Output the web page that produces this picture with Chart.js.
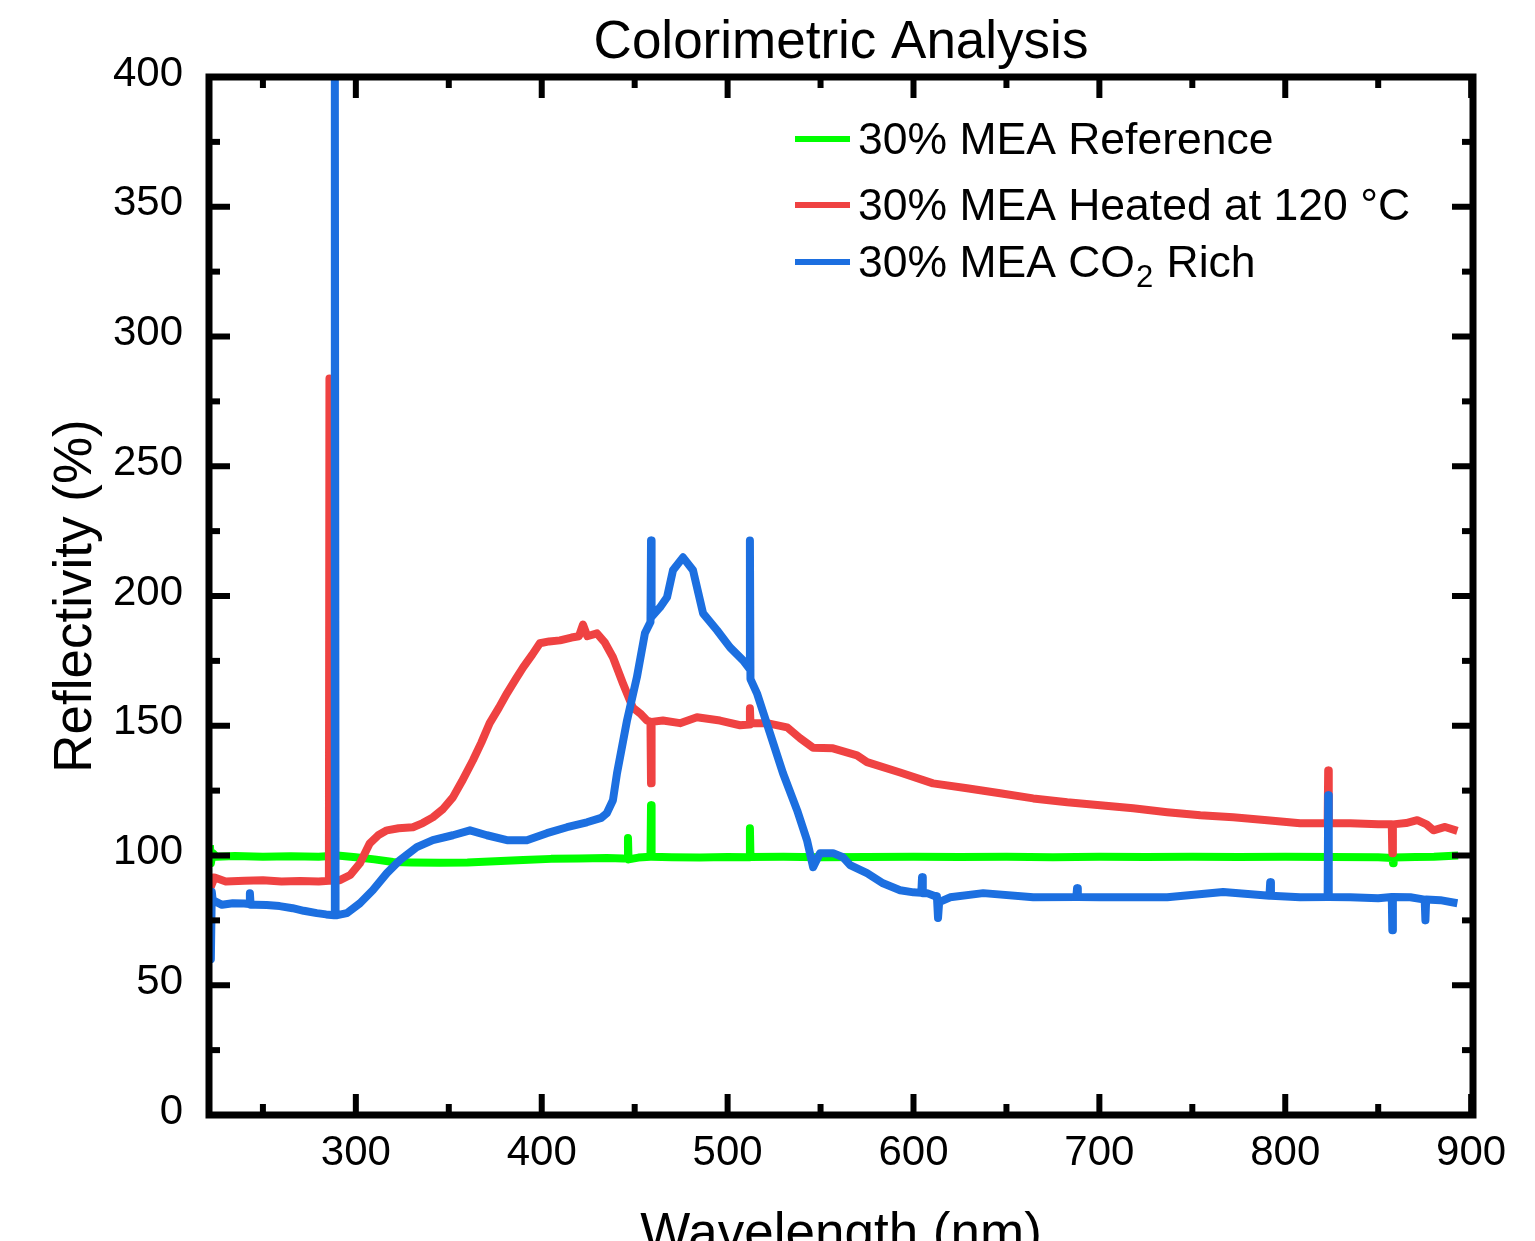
<!DOCTYPE html>
<html>
<head>
<meta charset="utf-8">
<script src="https://cdn.jsdelivr.net/npm/chart.js@4/dist/chart.umd.min.js"></script>
<style>
html,body{margin:0;padding:0;background:#fff;}
#c{display:block;}
</style>
</head>
<body>
<canvas id="c" width="1535" height="1241"></canvas>
<script>
// ---------------- data ----------------
const TITLE = 'Colorimetric Analysis';
const X_TITLE = 'Wavelength (nm)';
const Y_TITLE = 'Reflectivity (%)';
const X_MIN = 221, X_MAX = 901, Y_MIN = 0, Y_MAX = 400;
const X_TICKS = [300, 400, 500, 600, 700, 800, 900];
const X_MINOR = [250, 350, 450, 550, 650, 750, 850];
const Y_TICKS = [0, 50, 100, 150, 200, 250, 300, 350, 400];
const Y_MINOR = [25, 75, 125, 175, 225, 275, 325, 375];
const SERIES_NAMES = ['30% MEA Reference', '30% MEA Heated at 120 °C', '30% MEA CO₂ Rich'];

// 30% MEA Reference
const refX = [221.5, 222, 223, 225, 235, 250, 265, 280, 290, 300, 310, 320, 330, 345, 360, 375, 390, 405, 420, 435, 444, 446.1, 446.4, 446.7, 452, 458.5, 458.8, 459.1, 470, 485, 500, 511.7, 512, 512.3, 530, 550, 575, 600, 625, 650, 675, 700, 725, 750, 775, 800, 825, 850, 857.7, 858, 858.3, 870, 880, 893];
const refY = [104, 97, 101, 99.5, 99.8, 99.5, 99.7, 99.5, 100, 99.3, 98.5, 97.5, 97.3, 97.2, 97.3, 97.8, 98.3, 98.7, 98.8, 99, 98.8, 99, 106.7, 98.5, 99.2, 99.5, 119.4, 99.5, 99.3, 99.2, 99.4, 99.3, 110.5, 99.4, 99.5, 99.3, 99.4, 99.5, 99.4, 99.5, 99.3, 99.5, 99.4, 99.5, 99.4, 99.5, 99.4, 99.3, 99, 97, 99.2, 99.4, 99.5, 100];

// 30% MEA Heated at 120 °C
const heatX = [221.5, 222, 224, 230, 240, 250, 260, 270, 280, 285.5, 285.8, 286.1, 291.4, 297, 302.2, 307.5, 312, 316.7, 323, 330.7, 336, 341.4, 347, 352.2, 357, 363, 367.5, 372, 377, 381.3, 386, 390, 395, 399, 404, 409.8, 416, 420, 422.2, 424.5, 429.7, 434, 438.3, 443.7, 449, 452.9, 456.6, 458.5, 458.8, 459.1, 465.2, 474.4, 483.5, 495.9, 506.7, 511.7, 512, 512.3, 521.2, 532, 539, 546, 556.7, 569.6, 575, 592.8, 610.5, 628.8, 646.6, 664.4, 682.7, 700.4, 718.2, 736.5, 754.3, 772, 790.3, 808, 822.8, 823.1, 823.4, 835, 850, 857.3, 857.6, 857.9, 865, 871, 876, 879.7, 886, 892.6];
const heatY = [93, 88, 91.5, 90, 90.3, 90.5, 90, 90.2, 90, 90.3, 283.8, 90.3, 90.5, 92.5, 97, 104.7, 107.8, 109.7, 110.5, 110.9, 112.5, 114.7, 118, 122.4, 128.5, 136.7, 143.5, 151, 157, 162.5, 168, 172.5, 177.5, 181.8, 182.5, 182.9, 184, 184.5, 189, 184.5, 185.6, 182, 176.4, 166.3, 157, 154.8, 152, 151.5, 127.8, 151.5, 152, 151, 153.3, 152, 150.2, 150.5, 156.7, 151, 151, 149.4, 145.2, 141.5, 141.3, 138.6, 136, 132, 127.8, 125.9, 124, 122, 120.5, 119.4, 118.2, 116.7, 115.5, 114.7, 113.6, 112.4, 112.4, 132.8, 112.5, 112.4, 112, 112, 100.9, 112, 112.5, 113.6, 112, 109.7, 111, 109.5];

// 30% MEA CO2 Rich
const co2X = [221.5, 222, 222.5, 223, 228, 233.8, 240, 242.6, 243, 243.4, 246, 252, 259, 266, 272, 279, 284, 288.3, 288.7, 289.1, 290, 295.2, 302.2, 309.1, 316.7, 323.7, 332.8, 341.4, 352.2, 361.4, 370.5, 381.3, 392, 402.8, 413.6, 424.3, 432, 435, 438.3, 440.5, 445.9, 451.2, 455.5, 458.5, 458.8, 459.1, 463.6, 467.4, 470.6, 476, 481.4, 486.8, 494.3, 501.3, 508.3, 511.7, 512, 512.3, 515.8, 522.8, 529.8, 537.4, 542.7, 546, 549.7, 556.7, 562.1, 565.9, 575, 583.6, 592.8, 600, 604.2, 604.6, 605, 607.3, 611, 612.6, 613.2, 613.8, 619.7, 637.5, 664.4, 687.6, 688, 688.4, 700.4, 736.5, 766.6, 791.5, 791.9, 792.3, 808, 822.8, 823.1, 823.4, 835, 850, 857.3, 857.6, 857.9, 867.3, 875, 875.4, 875.8, 883.4, 892.6];
const co2Y = [83, 60, 86, 82.8, 81, 81.6, 81.5, 81.3, 85.5, 81, 81, 80.9, 80.5, 79.7, 78.7, 77.8, 77.3, 77, 400, 77, 77, 77.8, 81.6, 86.6, 93.2, 98.2, 103.2, 105.9, 107.8, 109.7, 107.8, 105.9, 105.9, 108.6, 110.9, 112.8, 114.5, 116.3, 121.3, 131.7, 152.1, 168.7, 185.6, 190, 221.4, 192, 195.6, 199.5, 209.9, 214.9, 209.9, 193.3, 186.8, 180.2, 175.2, 172, 221.4, 168, 162.5, 147.1, 131.7, 117.4, 105.9, 95.5, 100.9, 100.9, 99.3, 96.3, 93.2, 89.3, 86.6, 85.8, 85.6, 91.6, 85.5, 85.5, 84.5, 84.3, 75.9, 82, 83.9, 85.5, 83.9, 84, 87.4, 84, 83.9, 83.9, 85.9, 84.5, 89.7, 84.5, 83.9, 84, 123.2, 84, 83.9, 83.5, 84, 71.2, 84, 83.9, 83, 75, 83, 82.8, 81.6];

const COLORS = ['#00FF00', '#EF4242', '#1C6FE0'];

// ---------------- chart ----------------
const FONT = '"Liberation Sans", Arial, Helvetica, sans-serif';
const pts = (xs, ys) => xs.map((x, i) => ({x: x, y: ys[i]}));

const framePlugin = {
  id: 'frameAndText',
  afterDatasetsDraw(chart) {
    const {ctx, chartArea: a} = chart;
    const xs = chart.scales.x, ys = chart.scales.y;
    ctx.save();
    ctx.strokeStyle = '#000';
    ctx.lineCap = 'butt';
    const seg = (x1, y1, x2, y2) => { ctx.beginPath(); ctx.moveTo(x1, y1); ctx.lineTo(x2, y2); ctx.stroke(); };
    ctx.lineWidth = 6;
    X_TICKS.forEach(v => { const p = xs.getPixelForValue(v); seg(p, a.bottom, p, a.bottom - 21); seg(p, a.top, p, a.top + 21); });
    X_MINOR.forEach(v => { const p = xs.getPixelForValue(v); seg(p, a.bottom, p, a.bottom - 11); seg(p, a.top, p, a.top + 11); });
    Y_TICKS.forEach(v => { const p = ys.getPixelForValue(v); seg(a.left, p, a.left + 21, p); seg(a.right, p, a.right - 21, p); });
    Y_MINOR.forEach(v => { const p = ys.getPixelForValue(v); seg(a.left, p, a.left + 11, p); seg(a.right, p, a.right - 11, p); });
    ctx.lineWidth = 7;
    ctx.strokeRect(a.left, a.top, a.right - a.left, a.bottom - a.top);

    // legend
    const rows = [139, 205, 262];
    ctx.textBaseline = 'middle';
    ctx.textAlign = 'left';
    rows.forEach((ry, i) => {
      ctx.strokeStyle = COLORS[i];
      ctx.lineWidth = 6;
      seg(795, ry, 850, ry);
      ctx.fillStyle = '#000';
      ctx.font = '44.5px ' + FONT;
      const ty = ry + 3;
      if (i === 2) {
        const t1 = '30% MEA CO';
        ctx.fillText(t1, 858, ty);
        const w = ctx.measureText(t1).width;
        ctx.font = '31px ' + FONT;
        ctx.fillText('2', 858 + w + 1, ty + 13);
        const w2 = ctx.measureText('2').width;
        ctx.font = '44.5px ' + FONT;
        ctx.fillText(' Rich', 858 + w + w2 + 2, ty);
      } else {
        ctx.fillText(SERIES_NAMES[i], 858, ty);
      }
    });

    // titles
    ctx.fillStyle = '#000';
    ctx.textAlign = 'center';
    ctx.textBaseline = 'alphabetic';
    ctx.font = '53px ' + FONT;
    const cx = (a.left + a.right) / 2;
    ctx.fillText(TITLE, cx, 58);
    ctx.fillText(X_TITLE, cx, 1250);
    ctx.save();
    ctx.translate(91, (a.top + a.bottom) / 2);
    ctx.rotate(-Math.PI / 2);
    ctx.fillText(Y_TITLE, 0, 0);
    ctx.restore();
    ctx.restore();
  }
};

new Chart(document.getElementById('c'), {
  type: 'scatter',
  data: {
    datasets: [
      {label: SERIES_NAMES[2], data: pts(co2X, co2Y), borderColor: COLORS[2], order: 0},
      {label: SERIES_NAMES[1], data: pts(heatX, heatY), borderColor: COLORS[1], order: 1},
      {label: SERIES_NAMES[0], data: pts(refX, refY), borderColor: COLORS[0], order: 2}
    ].map(d => Object.assign(d, {showLine: true, pointRadius: 0, borderWidth: 8, tension: 0, borderJoinStyle: 'round', borderCapStyle: 'butt', fill: false}))
  },
  options: {
    responsive: false,
    animation: false,
    devicePixelRatio: 1,
    layout: {padding: {left: 0, right: 62, top: 77, bottom: 0}},
    plugins: {legend: {display: false}, title: {display: false}, tooltip: {enabled: false}},
    scales: {
      x: {
        type: 'linear', min: X_MIN, max: X_MAX,
        grid: {display: false, drawTicks: false}, border: {display: false},
        afterBuildTicks: s => { s.ticks = X_TICKS.map(v => ({value: v})); },
        afterFit: s => { s.height = 126; },
        ticks: {font: {family: FONT, size: 42}, color: '#000', padding: 13, maxRotation: 0, autoSkip: false}
      },
      y: {
        type: 'linear', min: Y_MIN, max: Y_MAX,
        grid: {display: false, drawTicks: false}, border: {display: false},
        afterBuildTicks: s => { s.ticks = Y_TICKS.map(v => ({value: v})); },
        afterFit: s => { s.width = 209; },
        ticks: {font: {family: FONT, size: 42}, color: '#000', padding: 26, labelOffset: -3, autoSkip: false}
      }
    }
  },
  plugins: [framePlugin]
});
</script>
</body>
</html>
